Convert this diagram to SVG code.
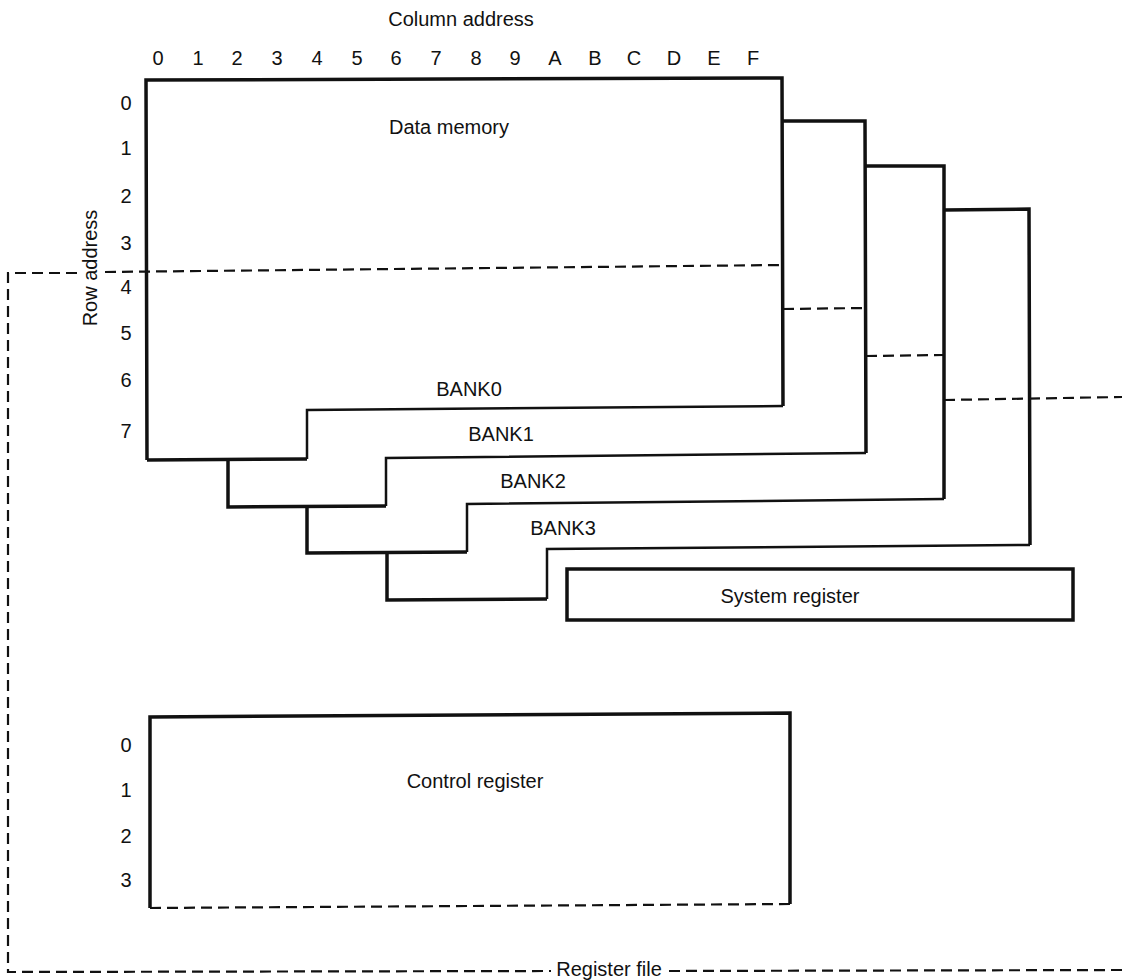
<svg xmlns="http://www.w3.org/2000/svg" width="1122" height="980" viewBox="0 0 1122 980">
<style>
text{font-family:"Liberation Sans",Arial,sans-serif;font-size:20px;fill:#111;text-anchor:middle}
.s{fill:none;stroke:#111;stroke-width:3.5;stroke-linejoin:miter}
.t{fill:none;stroke:#111;stroke-width:2.5}
.d{fill:none;stroke:#111;stroke-width:2.2;stroke-dasharray:11 6}
</style>
<rect width="1122" height="980" fill="#fff"/>
<g id="column-header">
<text x="461" y="26">Column address</text>
<text x="158" y="65">0</text><text x="198" y="65">1</text><text x="237" y="65">2</text><text x="277" y="65">3</text>
<text x="317" y="65">4</text><text x="357" y="65">5</text><text x="396" y="65">6</text><text x="436" y="65">7</text>
<text x="476" y="65">8</text><text x="515" y="65">9</text><text x="555" y="65">A</text><text x="595" y="65">B</text>
<text x="634" y="65">C</text><text x="674" y="65">D</text><text x="714" y="65">E</text><text x="753" y="65">F</text>
</g>
<g id="row-header">
<text transform="translate(97,268) rotate(-90)">Row address</text>
<text x="126" y="110">0</text><text x="126" y="155">1</text><text x="126" y="203">2</text><text x="126" y="250">3</text>
<text x="126" y="294">4</text><text x="126" y="340">5</text><text x="126" y="387">6</text><text x="126" y="438">7</text>
</g>
<g id="bank3">
<path class="s" d="M944,210 L1029,209 L1030,545"/>
<path class="t" d="M1030,545 L547,549 L547,599"/>
<path class="s" d="M547,599 L387,600 L387,553"/>
<text x="563" y="535">BANK3</text>
</g>
<g id="bank2">
<path class="s" d="M866,166 L944,166 L944,499"/>
<path class="t" d="M944,499 L467,504 L467,552"/>
<path class="s" d="M467,552 L307,553 L307,507"/>
<text x="533" y="488">BANK2</text>
</g>
<g id="bank1">
<path class="s" d="M783,121 L865,121 L866,453"/>
<path class="t" d="M866,453 L386,458 L386,506"/>
<path class="s" d="M386,506 L228,507 L228,460"/>
<text x="501" y="441">BANK1</text>
</g>
<g id="bank0">
<path class="s" d="M147,460 L146,80 L782,78 L783,406"/>
<path class="t" d="M783,406 L307,410 L307,459"/>
<path class="s" d="M307,459 L147,460"/>
<text x="449" y="134">Data memory</text>
<text x="469" y="396">BANK0</text>
</g>
<g id="system-register">
<rect class="s" x="567" y="569" width="506" height="51" stroke-width="2.5"/>
<text x="790" y="603">System register</text>
</g>
<g id="control-register">
<path class="s" d="M150,908 L150,717 L790,713 L790,904"/>
<path class="d" d="M150,908 L790,904"/>
<text x="126" y="752">0</text><text x="126" y="797">1</text><text x="126" y="843">2</text><text x="126" y="887">3</text>
<text x="475" y="788">Control register</text>
</g>
<g id="connectors">
<path class="d" d="M77,273 L8,273 L8,972 L551,971"/>
<path class="d" d="M105,272 L782,265"/>
<path class="d" d="M783,309 L866,308"/>
<path class="d" d="M866,356 L944,355"/>
<path class="d" d="M944,400 L1122,397"/>
<path class="d" d="M669,971 L1122,970"/>
</g>
<g id="register-file">
<text x="609" y="976">Register file</text>
</g>
</svg>
